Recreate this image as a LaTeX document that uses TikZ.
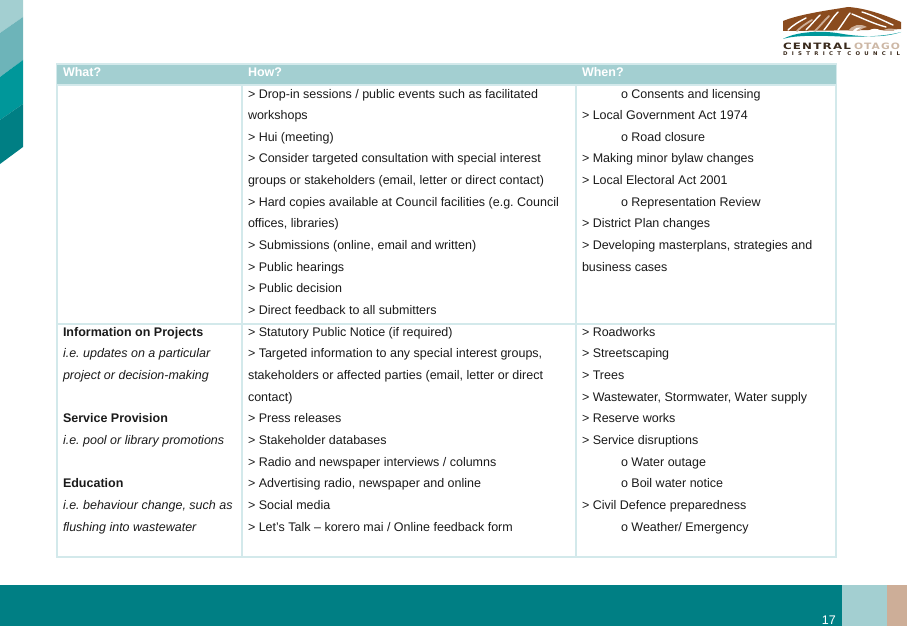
\documentclass[tikz,border=0pt]{standalone}
\usepackage{graphicx}
\usepackage{fontspec}
\setmainfont{Liberation Sans}
\newfontfamily\logofont[LetterSpace=10]{DejaVu Sans}
\newfontfamily\logosmall[LetterSpace=80]{DejaVu Sans}
\definecolor{hdr}{HTML}{A3CFD1}
\definecolor{grid}{HTML}{D3E9EB}
\definecolor{teal}{HTML}{007F84}
\definecolor{teal2}{HTML}{00979A}
\definecolor{teal3}{HTML}{6DB4B9}
\definecolor{tan}{HTML}{CDAE98}
\definecolor{brown}{HTML}{8A4B1E}
\definecolor{dark}{HTML}{3A2A1C}
\definecolor{txt}{HTML}{1A1A1A}
\definecolor{otago}{HTML}{CDB8A6}
\tikzset{
  cell/.style={anchor=base west,inner sep=0pt,outer sep=0pt,text=txt,font=\fontsize{12.5}{15}\selectfont\frenchspacing},
  head/.style={anchor=base west,inner sep=0pt,outer sep=0pt,text=white,font=\fontsize{12.5}{15}\selectfont\bfseries},
  gridline/.style={draw=grid,line width=1.4pt},
  wstripe/.style={draw=white,line width=1.4pt,line cap=round},
  tstripe/.style={draw=tan,line width=1.8pt,line cap=round},
  logotext/.style={anchor=base west,inner sep=0pt,outer sep=0pt},
}
\newcommand{\tx}[4]{\node[cell] (#1) at (#2,#3-0.6) {#4};}
\begin{document}
\begin{tikzpicture}[x=1pt,y=-1pt]
\useasboundingbox (0,0) rectangle (907,626);
% left band
\fill[hdr] (0,0) -- (23,0) -- (23,17) -- (0,33) -- cycle;
\fill[teal3] (0,33) -- (23,17) -- (23,60) -- (0,77) -- cycle;
\fill[teal2] (0,77) -- (23,60) -- (23,104) -- (0,120) -- cycle;
\fill[teal] (0,120) -- (23,104) -- (23,147) -- (0,164) -- cycle;
% footer
\fill[teal] (0,585) rectangle (842,626);
\fill[hdr] (842,585) rectangle (887,626);
\fill[tan] (887,585) rectangle (907,626);
\node[anchor=base east,inner sep=0pt,text=white,font=\fontsize{12.5}{15}\selectfont] (page) at (836,624.5) {17};
% table
\draw[gridline] (57,64) rectangle (836,557);
\draw[gridline] (57,324) -- (836,324);
\draw[gridline] (242,85) -- (242,557);
\draw[gridline] (576,85) -- (576,557);
\fill[hdr] (57,64.5) rectangle (836,85);
\draw[gridline] (57,85) -- (836,85);
\draw[gridline] (57,64) -- (836,64);
\node[head] (h1) at (63,76.5) {What?};
\node[head] (h2) at (248,76.5) {How?};
\node[head] (h3) at (582,76.5) {When?};
% How column
\tx{a1}{248}{99}{> Drop-in sessions / public events such as facilitated}
\tx{a2}{248}{120}{workshops}
\tx{a3}{248}{142}{> Hui (meeting)}
\tx{a4}{248}{163}{> Consider targeted consultation with special interest}
\tx{a5}{248}{185}{groups or stakeholders (email, letter or direct contact)}
\tx{a6}{248}{207}{> Hard copies available at Council facilities (e.g. Council}
\tx{a7}{248}{228}{offices, libraries)}
\tx{a8}{248}{250}{> Submissions (online, email and written)}
\tx{a9}{248}{272}{> Public hearings}
\tx{a10}{248}{293}{> Public decision}
\tx{a11}{248}{315}{> Direct feedback to all submitters}
% When column
\tx{b1}{621}{99}{o Consents and licensing}
\tx{b2}{582}{120}{> Local Government Act 1974}
\tx{b3}{621}{142}{o Road closure}
\tx{b4}{582}{163}{> Making minor bylaw changes}
\tx{b5}{582}{185}{> Local Electoral Act 2001}
\tx{b6}{621}{207}{o Representation Review}
\tx{b7}{582}{228}{> District Plan changes}
\tx{b8}{582}{250}{> Developing masterplans, strategies and}
\tx{b9}{582}{272}{business cases}
% second row
\tx{c1}{63}{337}{\bfseries Information on Projects}
\tx{c2}{63}{358}{\itshape i.e. updates on a particular}
\tx{c3}{63}{380}{\itshape project or decision-making}
\tx{c4}{63}{423}{\bfseries Service Provision}
\tx{c5}{63}{445}{\itshape i.e. pool or library promotions}
\tx{c6}{63}{488}{\bfseries Education}
\tx{c7}{63}{510}{\itshape i.e. behaviour change, such as}
\tx{c8}{63}{532}{\itshape flushing into wastewater}
\tx{d1}{248}{337}{> Statutory Public Notice (if required)}
\tx{d2}{248}{358}{> Targeted information to any special interest groups,}
\tx{d3}{248}{380}{stakeholders or affected parties (email, letter or direct}
\tx{d4}{248}{402}{contact)}
\tx{d5}{248}{423}{> Press releases}
\tx{d6}{248}{445}{> Stakeholder databases}
\tx{d7}{248}{467}{> Radio and newspaper interviews / columns}
\tx{d8}{248}{488}{> Advertising radio, newspaper and online}
\tx{d9}{248}{510}{> Social media}
\tx{d10}{248}{532}{> Let’s Talk – korero mai / Online feedback form}
\tx{e1}{582}{337}{> Roadworks}
\tx{e2}{582}{358}{> Streetscaping}
\tx{e3}{582}{380}{> Trees}
\tx{e4}{582}{402}{> Wastewater, Stormwater, Water supply}
\tx{e5}{582}{423}{> Reserve works}
\tx{e6}{582}{445}{> Service disruptions}
\tx{e7}{621}{467}{o Water outage}
\tx{e8}{621}{488}{o Boil water notice}
\tx{e9}{582}{510}{> Civil Defence preparedness}
\tx{e10}{621}{532}{o Weather/ Emergency}
% logo mountain
\fill[brown] (783,21) .. controls (800,14) and (830,10) .. (848,7) .. controls (865,8) and (885,15) .. (901,22) -- (901,29) -- (885,30) -- (783,31) -- cycle;
\draw[tstripe] (797,31) .. controls (802,26) and (807,23) .. (812,20);
\draw[tstripe] (815,31) .. controls (820,26) and (824,21) .. (829,16);
\draw[wstripe] (788,30) .. controls (793,25) and (800,21) .. (806,18);
\draw[wstripe] (806,30) .. controls (811,25) and (816,19) .. (820,15);
\draw[wstripe] (824,30) .. controls (829,24) and (833,17) .. (838,12);
\draw[wstripe] (838,30) .. controls (842,25) and (846,18) .. (850,13);
\draw[wstripe] (852,14) .. controls (862,18) and (874,24) .. (886,27);
\draw[wstripe] (862,12) .. controls (872,15) and (882,20) .. (893,25);
\fill[tan] (848,31) .. controls (852,25) and (860,23) .. (867,27) .. controls (863,28) and (861,29) .. (859,31) -- cycle;
\fill[white] (853,31) .. controls (855,28) and (858,27) .. (861,27.5) .. controls (858,29) and (857,30) .. (856,31) -- cycle;
\fill[white] (868,31) .. controls (872,28) and (877,28) .. (882,31) -- cycle;
\fill[tan] (882,31) .. controls (886,28.5) and (890,28) .. (894,29) -- (894,31) -- cycle;
% river
\fill[teal2] (783,39) .. controls (795,32) and (820,30) .. (840,33.5) .. controls (860,37) and (885,38) .. (901,32) .. controls (885,36.5) and (862,37) .. (840,36.5) .. controls (820,35.5) and (795,35) .. (783,39) -- cycle;
% logo text
\node[logotext,text=dark] (logoa) at (783,49.5) {\resizebox{68pt}{6.5pt}{\logofont\bfseries CENTRAL}};
\node[logotext,text=otago] (logob) at (854,49.5) {\resizebox{46pt}{6.5pt}{\logofont\bfseries OTAGO}};
\node[logotext,text=dark] (logoc) at (783,56) {\resizebox{117pt}{3.8pt}{\logosmall\bfseries DISTRICT COUNCIL}};
\end{tikzpicture}
\end{document}
